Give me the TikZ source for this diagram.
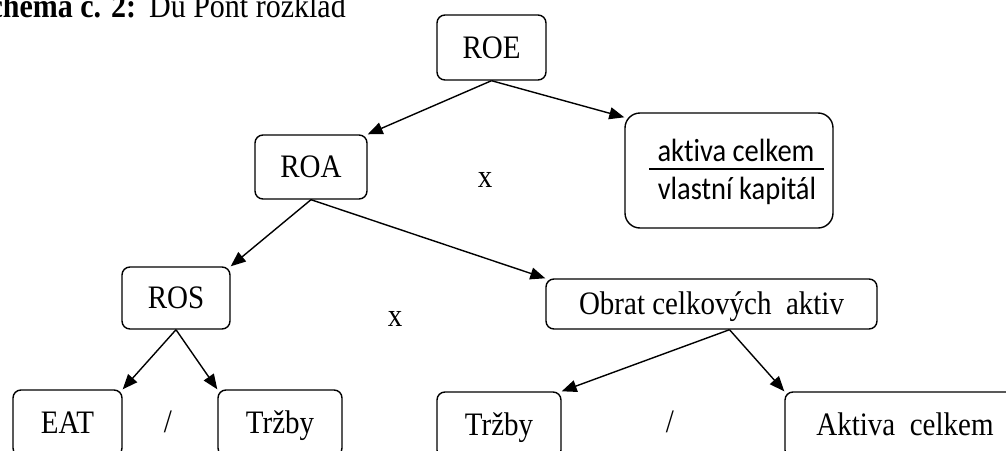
\documentclass[tikz,border=0pt]{standalone}
\usepackage{graphicx}
\usepackage{fontspec}
\setmainfont{Liberation Serif}
\newfontfamily\calib[Ligatures=NoCommon]{Carlito}
\usetikzlibrary{arrows.meta}
\newcommand{\tallt}[1]{\scalebox{1}[1.13]{#1}}
\begin{document}
\begin{tikzpicture}[x=1pt,y=-1pt,
 box/.style={draw,line width=1.4pt,rounded corners=8pt,inner sep=0pt,text height=21.5pt,text depth=0pt,font=\fontsize{29}{34}\selectfont},
 arr/.style={line width=1.4pt,-{Triangle[length=15pt,width=12pt]}},
 lbl/.style={inner sep=0pt,font=\fontsize{29}{34}\selectfont}]
\useasboundingbox (0,0) rectangle (1006,450);
\clip (0,0) rectangle (1006,450);
\node[anchor=base east,inner sep=0pt,font=\fontsize{30}{34}\selectfont] (title) at (346,17) {\tallt{\textbf{Schéma č. 2:}\hspace{3pt} Du Pont rozklad}};
\node[box,minimum width=109pt,minimum height=65pt] (roe) at (491.5,47.5) {\tallt{ROE}};
\node[box,minimum width=112pt,minimum height=64pt] (roa) at (311,167) {\tallt{ROA}};
\node[box,rounded corners=15pt,minimum width=208pt,minimum height=115pt] (frac) at (729,170.5) {};
\node[inner sep=0pt,font=\calib\fontsize{28.5}{32}\selectfont] (fnum) at (736,150) {\tallt{aktiva celkem}};
\node[inner sep=0pt,font=\calib\fontsize{28.5}{32}\selectfont] (fden) at (737,191) {\tallt{vlastní kapitál}};
\draw[line width=2pt] (649,169) -- (824,169);
\node[box,minimum width=108pt,minimum height=62pt] (ros) at (176,298) {\tallt{ROS}};
\node[box,minimum width=331pt,minimum height=50pt] (obrat) at (711.5,304) {\tallt{Obrat celkových\hspace{0.5em}aktiv}};
\node[box,minimum width=109pt,minimum height=66pt] (eat) at (67.5,423) {\tallt{EAT}};
\node[box,minimum width=124pt,minimum height=66pt] (trz1) at (280,423) {\tallt{Tržby}};
\node[box,minimum width=124pt,minimum height=66pt] (trz2) at (499,425) {\tallt{Tržby}};
\node[box,minimum width=240pt,minimum height=66pt] (akt) at (905,425) {\tallt{Aktiva\hspace{0.5em}celkem}};
\node[lbl] (x1) at (485,180) {\tallt{x}};
\node[lbl] (x2) at (395,319) {\tallt{x}};
\node[lbl] (s1) at (168,422) {\tallt{/}};
\node[lbl] (s2) at (670,422) {\tallt{/}};
\draw[arr] (roe.south) -- (roa.north east);
\draw[arr] (roe.south) -- ([yshift=-5pt]frac.north west);
\draw[arr] (roa.south) -- (ros.north east);
\draw[arr] (roa.south) -- (obrat.north west);
\draw[arr] (ros.south) -- (eat.north east);
\draw[arr] (ros.south) -- (trz1.north west);
\coordinate (obs) at ([xshift=18pt]obrat.south);
\draw[arr] (obs) -- (trz2.north east);
\draw[arr] (obs) -- (akt.north west);
\end{tikzpicture}
\end{document}
